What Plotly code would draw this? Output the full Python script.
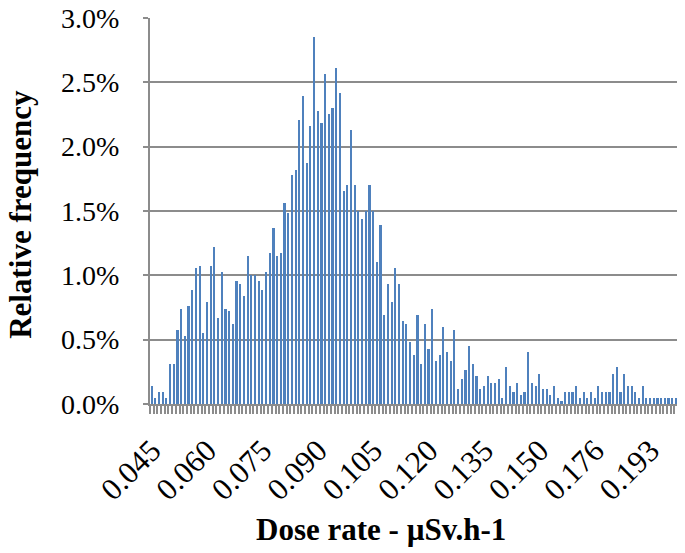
import plotly.graph_objects as go

# Relative frequency (%) for each dose-rate class (category order)
freq_pct = [
    0.142, 0.044, 0.095, 0.095, 0.044, 0.309, 0.309, 0.572, 0.740, 0.526,
    0.765, 0.887, 1.054, 1.075, 0.552, 0.789, 1.075, 1.224, 0.670, 1.028,
    0.740, 0.719, 0.624, 0.956, 0.933, 0.838, 1.152, 1.003, 1.003, 0.956,
    0.887, 1.028, 1.173, 1.366, 1.152, 1.173, 1.559, 1.487, 1.776, 1.822,
    2.209, 2.397, 1.871, 2.157, 2.853, 2.278, 2.183, 2.564, 2.253, 2.299,
    2.613, 2.420, 1.652, 1.701, 2.131, 1.701, 1.500, 1.436, 1.500, 1.701,
    1.500, 1.101, 1.389, 0.693, 0.933, 0.789, 1.054, 0.933, 0.644, 0.624,
    0.479, 0.381, 0.693, 0.309, 0.624, 0.430, 0.740, 0.335, 0.381, 0.598,
    0.407, 0.335, 0.572, 0.116, 0.191, 0.263, 0.454, 0.309, 0.214, 0.116,
    0.142, 0.214, 0.165, 0.165, 0.191, 0.044, 0.286, 0.142, 0.095, 0.165,
    0.070, 0.095, 0.407, 0.165, 0.142, 0.237, 0.116, 0.116, 0.070, 0.142,
    0.044, 0.023, 0.095, 0.095, 0.095, 0.142, 0.044, 0.095, 0.044, 0.095,
    0.044, 0.142, 0.095, 0.095, 0.095, 0.237, 0.286, 0.095, 0.237, 0.142,
    0.142, 0.095, 0.044, 0.142, 0.044, 0.044, 0.044, 0.044, 0.044, 0.044,
    0.044, 0.044, 0.044, 0.044,
]

# Category labels shown on the axis (every 15th class)
tick_labels = ["0.045", "0.060", "0.075", "0.090", "0.105",
               "0.120", "0.135", "0.150", "0.176", "0.193"]
label_step = 15

# Y axis ticks (fractions)
y_ticks = [0.0, 0.005, 0.010, 0.015, 0.020, 0.025, 0.030]

x_idx = list(range(len(freq_pct)))
freq = [v / 100 for v in freq_pct]
tick_positions = [i * label_step for i in range(len(tick_labels))]

GRID = "#8c8c8c"
FONT = "Liberation Serif"

fig = go.Figure(go.Bar(
    x=x_idx, y=freq, width=0.45,
    marker=dict(color="#4F81BD", line=dict(width=0)),
))

# page body has an 8px margin, so the figure is sized to the visible area
fig.update_layout(
    width=677, height=545,
    margin=dict(l=142, r=0, t=10, b=149, autoexpand=False),
    paper_bgcolor="white", plot_bgcolor="white",
    showlegend=False,
    font=dict(family=FONT, size=28, color="black"),
    bargap=0,
)

fig.update_xaxes(
    range=[-0.5, 144.4], automargin=False,
    tickmode="array", tickvals=tick_positions, ticktext=tick_labels,
    tickangle=-45, ticks="", ticklabelstandoff=14,
    showgrid=False, zeroline=False,
    showline=True, linecolor=GRID, linewidth=2,
    tickfont=dict(family=FONT, size=31, color="black"),
    minor=dict(ticks="outside", tickmode="linear", tick0=-0.5, dtick=1,
               ticklen=8, tickwidth=1.5, tickcolor=GRID, showgrid=False),
)

fig.update_yaxes(
    range=[0, 0.03], automargin=False,
    tickmode="array", tickvals=y_ticks, tickformat=".1%",
    ticklabeloverflow="allow",
    showgrid=True, gridcolor=GRID, gridwidth=2,
    zeroline=False, showline=True, linecolor=GRID, linewidth=2,
    ticks="outside", ticklen=5, tickcolor=GRID, tickwidth=2,
    ticklabelstandoff=18,
    tickfont=dict(family=FONT, size=28, color="black"),
)

fig.add_annotation(
    text="<b>Relative frequency</b>", textangle=-90,
    xref="paper", yref="paper", x=-0.2435, y=0.492,
    xanchor="center", yanchor="middle", showarrow=False,
    font=dict(family=FONT, size=31, color="black"),
)
fig.add_annotation(
    text="<b>Dose rate - µSv.h-1</b>",
    xref="paper", yref="paper", x=0.432, y=-0.326,
    xanchor="center", yanchor="middle", showarrow=False,
    font=dict(family=FONT, size=31, color="black"),
)

fig.write_html("out.html")
